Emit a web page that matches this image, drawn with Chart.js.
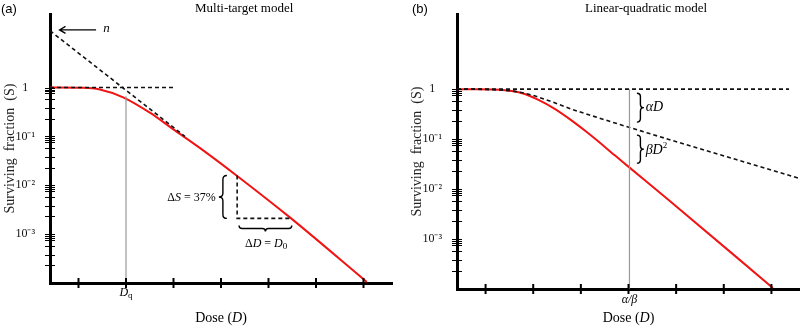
<!DOCTYPE html>
<html>
<head>
<meta charset="utf-8">
<script src="https://cdn.jsdelivr.net/npm/chart.js@4"></script>
<style>
  html, body { margin: 0; padding: 0; background: #fff; }
  #wrap { position: relative; width: 800px; height: 329px; }
  .panel { position: absolute; top: 0; width: 400px; height: 329px; }
</style>
</head>
<body>
<div id="wrap">
  <div class="panel" style="left:0"><canvas id="chartA" width="400" height="329"></canvas></div>
  <div class="panel" style="left:400px"><canvas id="chartB" width="400" height="329"></canvas></div>
</div>
<script>
// dose axis: arbitrary units, tick marks only
const doseTicks = [0.6, 1.6, 2.6, 3.6, 4.6, 5.6, 6.6];
// surviving fraction axis: labelled decades + the minor marks under each
const survTickValues = [1, 0.1, 0.01, 0.001];
const survTickText = ['1', '10⁻¹', '10⁻²', '10⁻³'];
const survMinorSteps = [0.91, 0.83, 0.76, 0.575, 0.38, 0.23];

// (a) multi-target model
const mtDose = [0, 0.69, 1.05, 1.54, 2.11, 2.59, 3.16, 3.94, 5.05, 6.67];
const mtSurv = [1, 0.986, 0.912, 0.63, 0.302, 0.141, 0.0575, 0.0155, 0.0022, 0.000105];
const mtExtrapDose = [0, 2.84];
const mtExtrapSurv = [14.5, 0.1];
const mtOneDose = [0, 2.63];
const mtOneSurv = [1, 1];
const dqDose = [1.6, 1.6];
const dqSurv = [0.66, 0.0001];
const deltaDose = [3.94, 3.94, 5.05];
const deltaSurv = [0.0158, 0.0021, 0.0021];

// (b) linear-quadratic model
const lqDose = [0, 0.38, 1.01, 1.37, 1.70, 2.06, 2.41, 2.75, 3.32, 3.61, 4.43, 6.63];
const lqSurv = [1, 1, 0.955, 0.83, 0.617, 0.398, 0.234, 0.132, 0.0468, 0.0275, 0.0062, 0.000105];
const alphaDose = [0, 0.69, 1.37, 2.59, 7.16];
const alphaSurv = [1, 0.977, 0.85, 0.347, 0.0166];
const lqOneDose = [0, 6.97];
const lqOneSurv = [1, 1];
const abDose = [3.62, 3.62];
const abSurv = [1, 0.0001];

const SERIF = '"Liberation Serif", "Times New Roman", serif';
const RED = '#f01414';

function pts(xs, ys) {
    return xs.map((x, i) => ({ x: x, y: ys[i] }));
}

function redLine(data) {
    return { data: data, borderColor: RED, borderWidth: 2, cubicInterpolationMode: 'monotone' };
}
function dashLine(data) {
    return { data: data, borderColor: '#111', borderWidth: 1.6, borderDash: [4, 3] };
}
function grayLine(data) {
    return { data: data, borderColor: '#999', borderWidth: 1.2 };
}

// draw a run of text pieces with different fonts
function drawRuns(ctx, x, y, runs, align) {
    let w = 0;
    runs.forEach(r => { ctx.font = r[1]; w += ctx.measureText(r[0]).width; });
    let cx = align === 'center' ? x - w / 2 : (align === 'right' ? x - w : x);
    ctx.textAlign = 'left';
    ctx.textBaseline = 'middle';
    runs.forEach(r => {
        ctx.font = r[1];
        ctx.fillText(r[0], cx, y + (r[2] || 0));
        cx += ctx.measureText(r[0]).width;
    });
}

function vBrace(ctx, x, y1, y2, dir, w) {
    const ym = (y1 + y2) / 2;
    const e = x - dir * w, t = x + dir * w;
    ctx.beginPath();
    ctx.moveTo(e, y1);
    ctx.quadraticCurveTo(x, y1, x, y1 + w);
    ctx.lineTo(x, ym - w);
    ctx.quadraticCurveTo(x, ym, t, ym);
    ctx.quadraticCurveTo(x, ym, x, ym + w);
    ctx.lineTo(x, y2 - w);
    ctx.quadraticCurveTo(x, y2, e, y2);
    ctx.stroke();
}

function hBrace(ctx, x1, x2, y, dir, w) {
    const xm = (x1 + x2) / 2;
    const e = y - dir * w, t = y + dir * w;
    ctx.beginPath();
    ctx.moveTo(x1, e);
    ctx.quadraticCurveTo(x1, y, x1 + w, y);
    ctx.lineTo(xm - w, y);
    ctx.quadraticCurveTo(xm, y, xm, t);
    ctx.quadraticCurveTo(xm, y, xm + w, y);
    ctx.lineTo(x2 - w, y);
    ctx.quadraticCurveTo(x2, y, x2, e);
    ctx.stroke();
}

// short tick marks crossing the axis lines
const axisMarks = {
    id: 'axisMarks',
    afterDraw(chart) {
        const { ctx, scales: { x, y } } = chart;
        ctx.save();
        ctx.strokeStyle = '#000';
        ctx.lineWidth = 1;
        ctx.beginPath();
        y.ticks.forEach(t => {
            if (t.value > 1.0001 || t.value < 1.5e-4) return;
            const py = Math.round(y.getPixelForValue(t.value)) + 0.5;
            ctx.moveTo(x.left - 5, py);
            ctx.lineTo(x.left + 5, py);
        });
        ctx.stroke();
        ctx.lineWidth = 2;
        ctx.beginPath();
        x.ticks.forEach(t => {
            const px = x.getPixelForValue(t.value);
            ctx.moveTo(px, y.bottom - 5);
            ctx.lineTo(px, y.bottom + 5);
        });
        ctx.stroke();
        ctx.restore();
    }
};

function survLabel(v) {
    const i = survTickValues.findIndex(s => Math.abs(Math.log10(s) - Math.log10(v)) < 1e-6);
    return i < 0 ? '' : survTickText[i];
}

function survTicks(scale) {
    const ticks = [];
    survTickValues.forEach(d => {
        ticks.push({ value: d });
        survMinorSteps.forEach(m => ticks.push({ value: d * m }));
    });
    scale.ticks = ticks;
}

function makeOptions(yWidth, xHeight, pad, titlePad) {
    return {
        responsive: false,
        animation: false,
        layout: { padding: pad },
        plugins: { legend: { display: false }, tooltip: { enabled: false } },
        elements: { point: { radius: 0 } },
        scales: {
            x: {
                type: 'linear',
                min: 0,
                max: 7.2,
                grid: { display: false },
                border: { display: true, color: '#000', width: 3 },
                ticks: { display: false },
                afterBuildTicks: s => { s.ticks = doseTicks.map(v => ({ value: v })); },
                afterFit: s => { s.height = xHeight; }
            },
            y: {
                type: 'logarithmic',
                min: 0.0001,
                max: Math.pow(10, 1.5),
                grid: { display: false },
                border: { display: true, color: '#000', width: 3 },
                ticks: {
                    autoSkip: false,
                    crossAlign: 'center',
                    padding: 7,
                    color: '#111',
                    font: { family: SERIF, size: 12 },
                    callback: v => survLabel(v)
                },
                afterBuildTicks: survTicks,
                title: {
                    display: true,
                    text: 'Surviving  fraction  (S)',
                    color: '#222',
                    font: { family: SERIF, size: 14 },
                    padding: { top: titlePad, bottom: 0 }
                },
                afterFit: s => { s.width = yWidth; }
            }
        }
    };
}

const annotA = {
    id: 'annotA',
    afterDraw(chart) {
        const { ctx, scales: { x, y } } = chart;
        const X = v => x.getPixelForValue(v), Y = v => y.getPixelForValue(v);
        ctx.save();
        ctx.fillStyle = '#000';
        ctx.strokeStyle = '#000';
        drawRuns(ctx, 1, 9, [['(a)', '13px "Liberation Sans", Arial, sans-serif']], 'left');
        drawRuns(ctx, 195, 9, [['Multi-target model', '13px ' + SERIF]], 'left');

        // n arrow
        const ay = Y(15.1);
        ctx.lineWidth = 1.3;
        ctx.beginPath();
        ctx.moveTo(X(0.97), ay);
        ctx.lineTo(X(0.2), ay);
        ctx.moveTo(X(0.2) + 6, ay - 3.5);
        ctx.lineTo(X(0.2), ay);
        ctx.lineTo(X(0.2) + 6, ay + 3.5);
        ctx.stroke();
        drawRuns(ctx, X(1.12), ay - 1, [['n', 'italic 13px ' + SERIF]], 'left');

        // delta S / delta D braces
        ctx.lineWidth = 1.4;
        vBrace(ctx, X(3.64), Y(0.0158), Y(0.0021), -1, 4);
        drawRuns(ctx, X(3.49), Y(0.0055), [['Δ', '12px ' + SERIF], ['S', 'italic 12px ' + SERIF], [' = 37%', '12px ' + SERIF]], 'right');
        hBrace(ctx, X(3.98), X(5.09), Y(0.0013), 1, 3);
        drawRuns(ctx, X(4.55), Y(0.00063), [['Δ', '12px ' + SERIF], ['D', 'italic 12px ' + SERIF], [' = ', '12px ' + SERIF],
            ['D', 'italic 12px ' + SERIF], ['0', '9px ' + SERIF, 3]], 'center');

        // x labels
        drawRuns(ctx, X(dqDose[0]), y.bottom + 10, [['D', 'italic 12px ' + SERIF], ['q', '9px ' + SERIF, 3]], 'center');
        drawRuns(ctx, (x.left + x.right) / 2, 318, [['Dose (', '14px ' + SERIF], ['D', 'italic 14px ' + SERIF], [')', '14px ' + SERIF]], 'center');
        ctx.restore();
    }
};

const annotB = {
    id: 'annotB',
    afterDraw(chart) {
        const { ctx, scales: { x, y } } = chart;
        const X = v => x.getPixelForValue(v), Y = v => y.getPixelForValue(v);
        ctx.save();
        ctx.fillStyle = '#000';
        ctx.strokeStyle = '#000';
        drawRuns(ctx, 12, 9, [['(b)', '13px "Liberation Sans", Arial, sans-serif']], 'left');
        drawRuns(ctx, 185, 9, [['Linear-quadratic model', '13px ' + SERIF]], 'left');

        ctx.lineWidth = 1.4;
        vBrace(ctx, X(3.85), Y(0.83), Y(0.219), 1, 3.5);
        drawRuns(ctx, X(3.96), Y(0.437), [['α', 'italic 14px ' + SERIF], ['D', 'italic 14px ' + SERIF]], 'left');
        vBrace(ctx, X(3.85), Y(0.12), Y(0.033), 1, 3.5);
        drawRuns(ctx, X(3.96), Y(0.06), [['β', 'italic 14px ' + SERIF], ['D', 'italic 14px ' + SERIF], ['2', '9px ' + SERIF, -5]], 'left');

        drawRuns(ctx, X(abDose[0]), y.bottom + 11, [['α/β', 'italic 12px ' + SERIF]], 'center');
        drawRuns(ctx, (x.left + x.right) / 2, 318, [['Dose (', '14px ' + SERIF], ['D', 'italic 14px ' + SERIF], [')', '14px ' + SERIF]], 'center');
        ctx.restore();
    }
};

new Chart(document.getElementById('chartA'), {
    type: 'line',
    data: {
        datasets: [
            grayLine(pts(dqDose, dqSurv)),
            dashLine(pts(mtOneDose, mtOneSurv)),
            dashLine(pts(mtExtrapDose, mtExtrapSurv)),
            dashLine(pts(deltaDose, deltaSurv)),
            redLine(pts(mtDose, mtSurv))
        ]
    },
    options: makeOptions(50, 46, { top: 8, right: 8, left: 0, bottom: 0 }, 2),
    plugins: [axisMarks, annotA]
});

new Chart(document.getElementById('chartB'), {
    type: 'line',
    data: {
        datasets: [
            grayLine(pts(abDose, abSurv)),
            dashLine(pts(lqOneDose, lqOneSurv)),
            Object.assign(dashLine(pts(alphaDose, alphaSurv)), { cubicInterpolationMode: 'monotone' }),
            redLine(pts(lqDose, lqSurv))
        ]
    },
    options: makeOptions(57, 40, { top: 14, right: 0, left: 0, bottom: 0 }, 9),
    plugins: [axisMarks, annotB]
});
</script>
</body>
</html>
